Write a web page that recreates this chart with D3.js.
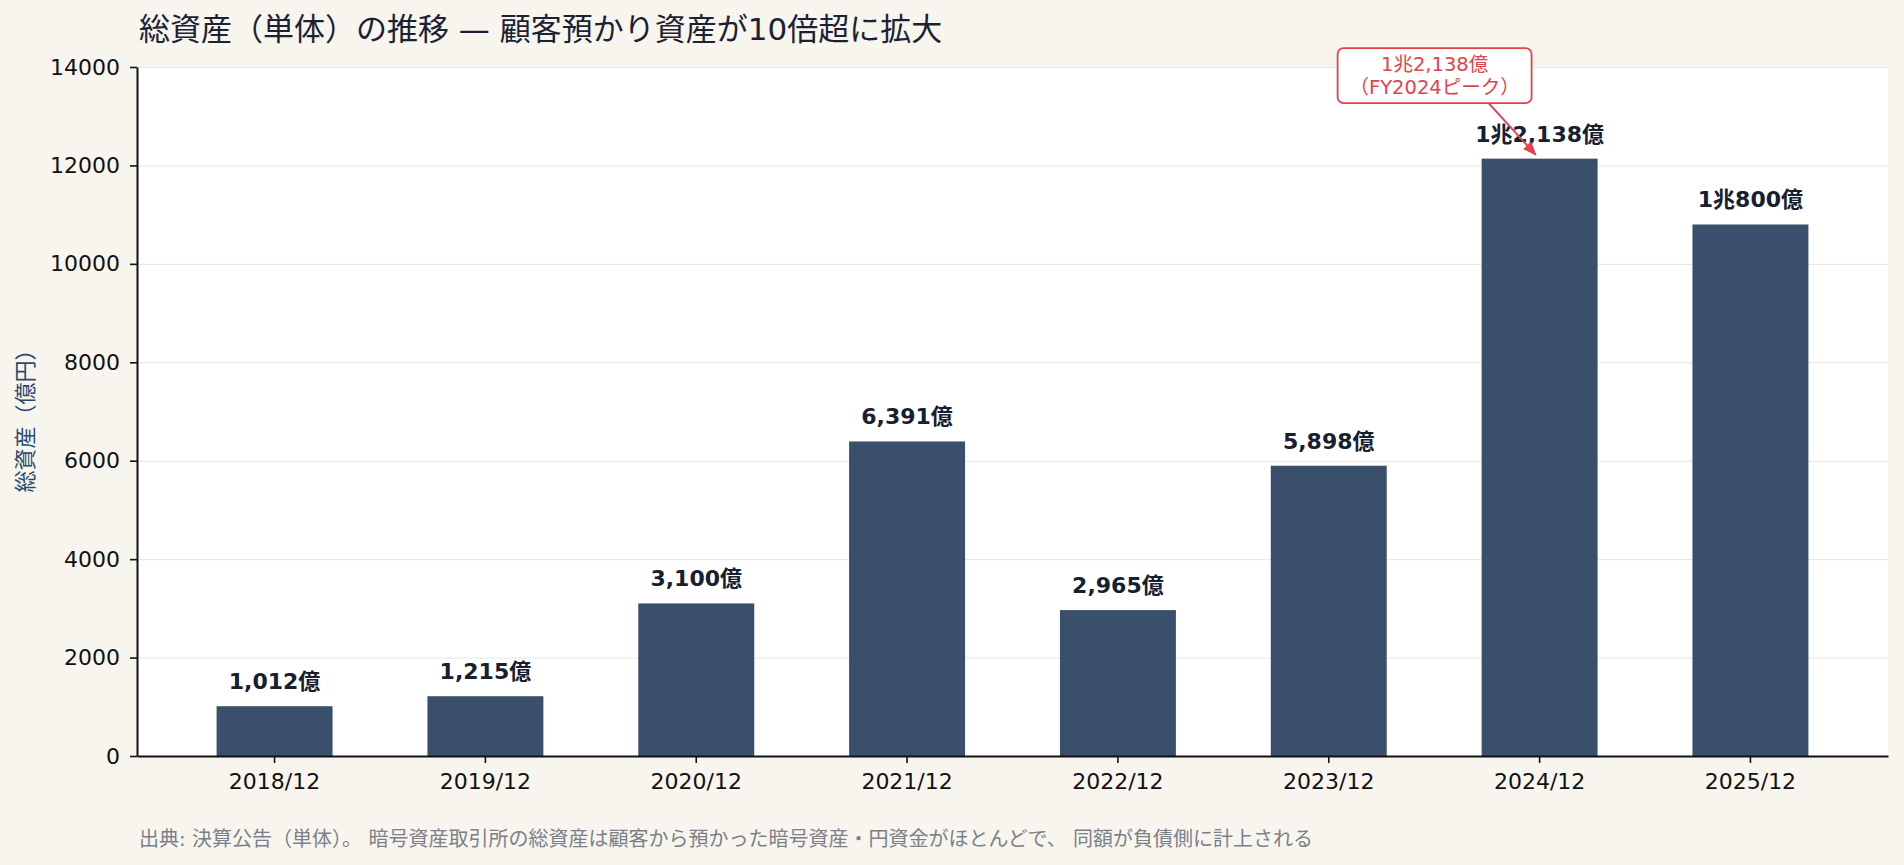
<!DOCTYPE html>
<html>
<head>
<meta charset="utf-8">
<script src="https://cdn.jsdelivr.net/npm/d3@7"></script>
<style>
  html, body { margin: 0; padding: 0; background: #f8f5ee; }
  svg { display: block; font-family: "DejaVu Sans", "Noto Sans CJK JP", sans-serif; }
</style>
</head>
<body>
<div id="chart-area"></div>
<script>
const categories = ["2018/12", "2019/12", "2020/12", "2021/12", "2022/12", "2023/12", "2024/12", "2025/12"];
const values = [1012, 1215, 3100, 6391, 2965, 5898, 12138, 10800];
const valueLabels = ["1,012億", "1,215億", "3,100億", "6,391億", "2,965億", "5,898億", "1兆2,138億", "1兆800億"];
const yTicks = [0, 2000, 4000, 6000, 8000, 10000, 12000, 14000];

const titleText = "総資産（単体）の推移 — 顧客預かり資産が10倍超に拡大";
const yLabelText = "総資産（億円）";
const noteText = "出典: 決算公告（単体）。 暗号資産取引所の総資産は顧客から預かった暗号資産・円資金がほとんどで、 同額が負債側に計上される";
const peakIndex = 6;
const peakLines = ["1兆2,138億", "（FY2024ピーク）"];

const width = 1904, height = 865;
const margin = ({top: 67, right: 16, bottom: 109, left: 137});

const barColor = "#3a4f6b";
const red = "#e5404e";
const fontMix = "\"DejaVu Sans\", \"Noto Sans CJK JP\", sans-serif";
const fontCJK = "\"Noto Sans CJK JP\", sans-serif";

const svg = d3.select("#chart-area").append("svg")
    .attr("width", width)
    .attr("height", height);

svg.append("rect")
    .attr("width", width)
    .attr("height", height)
    .attr("fill", "#f8f5ee");

const x = d3.scaleBand()
    .domain(categories)
    .range([margin.left, width - margin.right])
    .paddingInner(0.45)
    .paddingOuter(0.3775);

const y = d3.scaleLinear()
    .domain([0, 14000])
    .range([height - margin.bottom, margin.top]);

// plot background
svg.append("rect")
    .attr("x", margin.left)
    .attr("y", margin.top)
    .attr("width", width - margin.left - margin.right)
    .attr("height", height - margin.top - margin.bottom)
    .attr("fill", "#ffffff");

// grid
svg.append("g")
    .selectAll("line")
    .data(yTicks)
    .join("line")
        .attr("x1", margin.left)
        .attr("x2", width - margin.right)
        .attr("y1", d => y(d) + 0.5)
        .attr("y2", d => y(d) + 0.5)
        .attr("stroke", "#e6e6e6")
        .attr("stroke-width", 1);

// bars
svg.append("g")
    .attr("fill", barColor)
    .selectAll("rect")
    .data(values)
    .join("rect")
        .attr("x", (d, i) => x(categories[i]))
        .attr("y", d => y(d))
        .attr("width", x.bandwidth())
        .attr("height", d => y(0) - y(d));

// value labels
svg.append("g")
    .selectAll("text")
    .data(values)
    .join("text")
        .attr("x", (d, i) => x(categories[i]) + x.bandwidth() / 2)
        .attr("y", d => y(d) - 17)
        .attr("text-anchor", "middle")
        .attr("font-family", fontMix)
        .attr("font-size", 22)
        .attr("font-weight", "bold")
        .attr("fill", "#162030")
        .text((d, i) => valueLabels[i]);

// axes
const xAxis = g => g
    .attr("transform", `translate(0,${y(0)})`)
    .call(d3.axisBottom(x).tickSize(7).tickPadding(10).tickSizeOuter(0))
    .call(g => g.select(".domain").attr("stroke", "#111").attr("stroke-width", 2))
    .call(g => g.selectAll(".tick line").attr("stroke", "#111").attr("stroke-width", 1.6))
    .call(g => g.selectAll(".tick text").attr("font-size", 22).attr("fill", "#111")
        .attr("font-family", fontMix));

const yAxis = g => g
    .attr("transform", `translate(${margin.left},0)`)
    .call(d3.axisLeft(y).tickValues(yTicks).tickFormat(d3.format("d")).tickSize(7).tickPadding(10).tickSizeOuter(0))
    .call(g => g.select(".domain").attr("stroke", "#111").attr("stroke-width", 2))
    .call(g => g.selectAll(".tick line").attr("stroke", "#111").attr("stroke-width", 1.6))
    .call(g => g.selectAll(".tick text").attr("font-size", 22).attr("fill", "#111")
        .attr("font-family", fontMix));

svg.append("g").call(xAxis);
svg.append("g").call(yAxis);

// y label
svg.append("text")
    .attr("transform", `translate(33,${(y(0) + y(14000)) / 2 + 4}) rotate(-90)`)
    .attr("text-anchor", "middle")
    .attr("font-family", fontCJK)
    .attr("font-size", 22)
    .attr("fill", "#2b4a70")
    .text(yLabelText);

// title
svg.append("text")
    .attr("x", 139)
    .attr("y", 40)
    .attr("font-family", fontMix)
    .attr("font-size", 31)
    .attr("fill", "#1a2233")
    .text(titleText);

// footnote
svg.append("text")
    .attr("x", 139)
    .attr("y", 846)
    .attr("font-family", fontMix)
    .attr("font-size", 20)
    .attr("fill", "#7b8089")
    .text(noteText);

// peak annotation
const px = x(categories[peakIndex]) + x.bandwidth() / 2;
const py = y(values[peakIndex]);
const boxW = 194, boxH = 55;
const bx = px - 105, by = py - 83;

const defs = svg.append("defs");
defs.append("marker")
    .attr("id", "arrow")
    .attr("viewBox", "0 0 10 10")
    .attr("refX", 9)
    .attr("refY", 5)
    .attr("markerWidth", 7)
    .attr("markerHeight", 7)
    .attr("orient", "auto")
    .append("path")
        .attr("d", "M0,1 L10,5 L0,9 z")
        .attr("fill", red);

const tipX = px - 4, tipY = py - 4;
const startY = by + boxH / 2;
const startX = px - 51;
svg.append("line")
    .attr("x1", startX)
    .attr("y1", startY)
    .attr("x2", tipX)
    .attr("y2", tipY)
    .attr("stroke", red)
    .attr("stroke-width", 2)
    .attr("marker-end", "url(#arrow)");

svg.append("rect")
    .attr("x", bx - boxW / 2)
    .attr("y", by - boxH / 2)
    .attr("width", boxW)
    .attr("height", boxH)
    .attr("rx", 6)
    .attr("fill", "#ffffff")
    .attr("stroke", red)
    .attr("stroke-width", 1.8);

svg.append("text")
    .attr("x", bx)
    .attr("y", by - 5)
    .attr("text-anchor", "middle")
    .attr("font-family", fontMix)
    .attr("font-size", 19.5)
    .attr("fill", red)
    .selectAll("tspan")
    .data(peakLines)
    .join("tspan")
        .attr("x", bx)
        .attr("dy", (d, i) => i === 0 ? 0 : 23)
        .text(d => d);
</script>
</body>
</html>
